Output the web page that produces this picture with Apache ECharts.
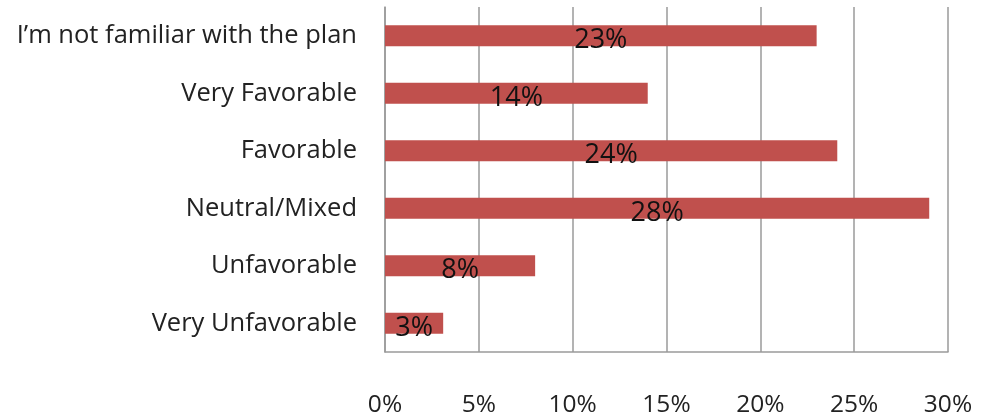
<!DOCTYPE html>
<html>
<head>
<meta charset="utf-8">
<script src="https://cdn.jsdelivr.net/npm/echarts@6/dist/echarts.min.js"></script>
<style>
  html, body { margin: 0; padding: 0; background: #fff; }
  #chart { width: 983px; height: 418px; }
</style>
</head>
<body>
<div id="chart"></div>
<script>
// answers, top to bottom
const categories = [
  'I\u2019m not familiar with the plan',
  'Very Favorable',
  'Favorable',
  'Neutral/Mixed',
  'Unfavorable',
  'Very Unfavorable'
];
// bar lengths as drawn (percent)
const values = [23, 14, 24.1, 29, 8, 3.1];
// printed labels
const valueLabels = ['23%', '14%', '24%', '28%', '8%', '3%'];
const xTicks = [0, 5, 10, 15, 20, 25, 30];

const FONT = '"Open Sans", "Liberation Sans", sans-serif';
const GRAY = '#9a9a9a';

const chart = echarts.init(document.getElementById('chart'));

chart.setOption({
  animation: false,
  grid: { left: 385, right: 35, top: 7, bottom: 66, containLabel: false },
  xAxis: {
    type: 'value',
    min: xTicks[0],
    max: xTicks[xTicks.length - 1],
    interval: xTicks[1] - xTicks[0],
    axisLine: { show: true, lineStyle: { color: GRAY, width: 1.5 } },
    axisTick: { show: false },
    splitLine: { show: true, lineStyle: { color: GRAY, width: 1.5 } },
    axisLabel: {
      margin: 41,
      color: '#222',
      fontFamily: FONT,
      fontSize: 24.5,
      formatter: '{value}%'
    }
  },
  yAxis: {
    type: 'category',
    data: categories,
    inverse: true,
    axisLine: { show: true, lineStyle: { color: GRAY, width: 1.5 } },
    axisTick: { show: false },
    axisLabel: {
      margin: 28,
      color: '#222',
      fontFamily: FONT,
      fontSize: 25.5
    }
  },
  series: [{
    type: 'bar',
    data: values,
    barWidth: 21,
    itemStyle: { color: '#C0504D' },
    label: {
      show: true,
      position: 'inside',
      offset: [0, 5],
      color: '#111',
      fontFamily: FONT,
      fontSize: 27,
      formatter: p => valueLabels[p.dataIndex]
    }
  }]
});
</script>
</body>
</html>
